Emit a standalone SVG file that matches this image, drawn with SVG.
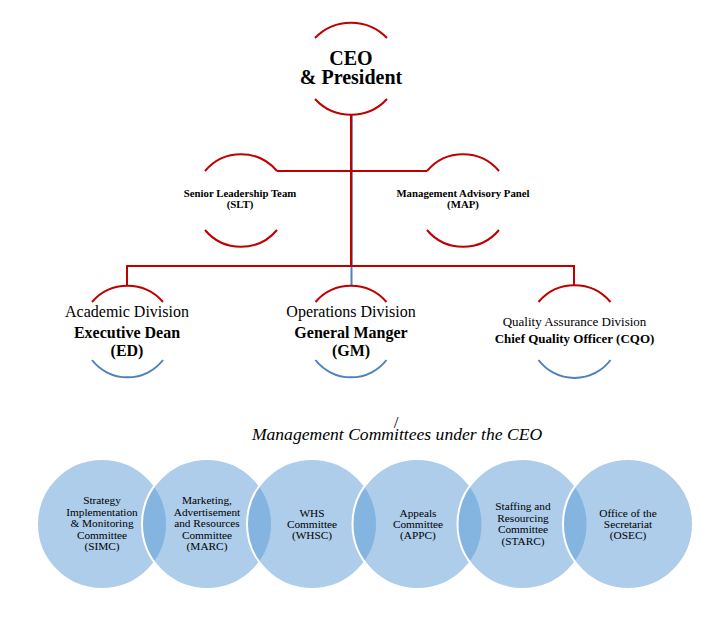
<svg xmlns="http://www.w3.org/2000/svg" width="724" height="618" viewBox="0 0 724 618">
<style>
.red{fill:none;stroke:#C00000;stroke-width:2}
.blue{fill:none;stroke:#4F81BD;stroke-width:2}
.conn{fill:none;stroke:#C00000;stroke-width:2}
text{font-family:'Liberation Serif','Times New Roman',Tinos,'DejaVu Serif',serif}
.t{fill:#000;text-anchor:middle}
.b{font-weight:bold}
.c{fill:#5B9BD5;fill-opacity:0.5;stroke:#fff;stroke-width:2}
.ct{fill:#000;text-anchor:middle;font-size:11.3px}
</style>
<rect width="724" height="618" fill="#fff"/>
<g id="connectors">
<line x1="352.3" y1="115" x2="352.3" y2="267" stroke="#4F81BD" stroke-width="1"/>
<line x1="351" y1="115" x2="351" y2="267" class="conn"/>
<line x1="277" y1="171" x2="427" y2="171" class="conn"/>
<polyline points="127,286 127,266 574,266 574,286" class="conn"/>
<line x1="351.5" y1="267" x2="351.5" y2="286" stroke="#4F81BD" stroke-width="2"/>
</g>
<g id="ceo">
<path class="red" d="M315 38 A50 50 0 0 1 387 38"/>
<path class="red" d="M315 99 A49 49 0 0 0 387 99"/>
<text class="t b" x="351" y="65" font-size="20">CEO</text>
<text class="t b" x="351" y="84" font-size="20">&amp; President</text>
</g>
<g id="slt">
<path class="red" d="M205 171 A47 47 0 0 1 277 171"/>
<path class="red" d="M205 230 A47 47 0 0 0 277 230"/>
<text class="t b" x="240" y="197.3" font-size="10.8">Senior Leadership Team</text>
<text class="t b" x="240" y="208" font-size="10.8">(SLT)</text>
</g>
<g id="map">
<path class="red" d="M427 171 A47 47 0 0 1 499 171"/>
<path class="red" d="M427 230 A47 47 0 0 0 499 230"/>
<text class="t b" x="463" y="197.3" font-size="10.8">Management Advisory Panel</text>
<text class="t b" x="463" y="208" font-size="10.8">(MAP)</text>
</g>
<g id="ed">
<path class="red" d="M92 302 A47 47 0 0 1 163 302"/>
<path class="blue" d="M92 360 A45 45 0 0 0 163 360"/>
<text class="t" x="127" y="317" font-size="16">Academic Division</text>
<text class="t b" x="127" y="338" font-size="16">Executive Dean</text>
<text class="t b" x="127" y="356" font-size="16">(ED)</text>
</g>
<g id="gm">
<path class="red" d="M315.5 302 A47 47 0 0 1 386.5 302"/>
<path class="blue" d="M315.5 360 A45 45 0 0 0 386.5 360"/>
<text class="t" x="351" y="317" font-size="16">Operations Division</text>
<text class="t b" x="351" y="338" font-size="16">General Manger</text>
<text class="t b" x="351" y="356" font-size="16">(GM)</text>
</g>
<g id="cqo">
<path class="red" d="M538.5 302 A47 47 0 0 1 610.5 302"/>
<path class="blue" d="M538.5 360 A45 45 0 0 0 610.5 360"/>
<text class="t" x="574.5" y="326" font-size="13">Quality Assurance Division</text>
<text class="t b" x="574.5" y="343" font-size="13">Chief Quality Officer (CQO)</text>
</g>
<g id="title">
<text class="t" x="396" y="427.5" font-size="17">/</text>
<text class="t" x="397" y="440" font-size="17.6" font-style="italic">Management Committees under the CEO</text>
</g>
<g id="simc">
<circle class="c" cx="102" cy="524" r="65"/>
<text class="ct" x="102" y="504.3">Strategy</text>
<text class="ct" x="102" y="515.7">Implementation</text>
<text class="ct" x="102" y="527.3">&amp; Monitoring</text>
<text class="ct" x="102" y="538.5">Committee</text>
<text class="ct" x="102" y="550">(SIMC)</text>
</g>
<g id="marc">
<circle class="c" cx="207" cy="524" r="65"/>
<text class="ct" x="207" y="504.3">Marketing,</text>
<text class="ct" x="207" y="515.7">Advertisement</text>
<text class="ct" x="207" y="527.3">and Resources</text>
<text class="ct" x="207" y="538.5">Committee</text>
<text class="ct" x="207" y="550">(MARC)</text>
</g>
<g id="whsc">
<circle class="c" cx="312" cy="524" r="65"/>
<text class="ct" x="312" y="516.5">WHS</text>
<text class="ct" x="312" y="528">Committee</text>
<text class="ct" x="312" y="539.2">(WHSC)</text>
</g>
<g id="appc">
<circle class="c" cx="417.5" cy="524" r="65"/>
<text class="ct" x="418" y="516.5">Appeals</text>
<text class="ct" x="418" y="528">Committee</text>
<text class="ct" x="418" y="539.2">(APPC)</text>
</g>
<g id="starc">
<circle class="c" cx="522.5" cy="524" r="65"/>
<text class="ct" x="523" y="510.2">Staffing and</text>
<text class="ct" x="523" y="521.7">Resourcing</text>
<text class="ct" x="523" y="533.2">Committee</text>
<text class="ct" x="523" y="544.6">(STARC)</text>
</g>
<g id="osec">
<circle class="c" cx="628" cy="524" r="65"/>
<text class="ct" x="628" y="516.5">Office of the</text>
<text class="ct" x="628" y="528">Secretariat</text>
<text class="ct" x="628" y="539.2">(OSEC)</text>
</g>
</svg>
